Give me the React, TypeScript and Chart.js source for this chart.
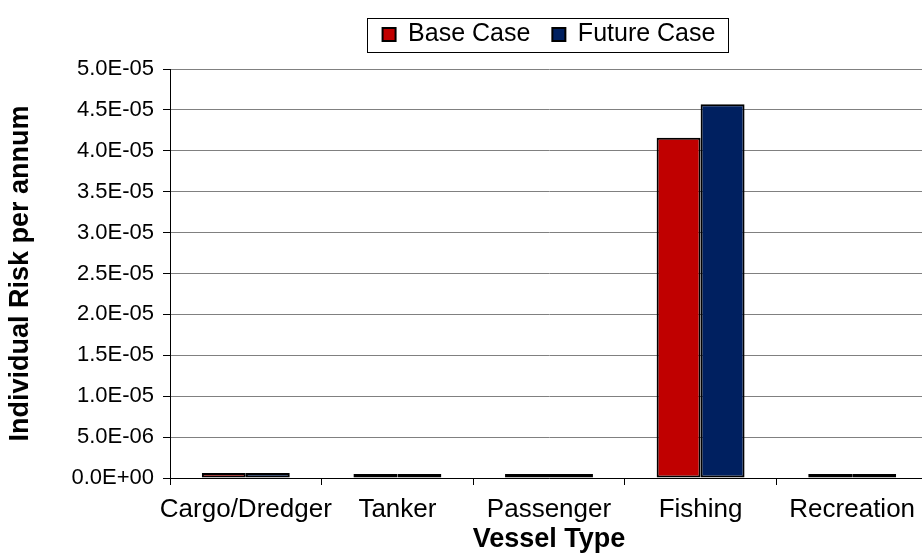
import React, { useEffect, useRef } from "react";
import { Chart, registerables } from "chart.js";

Chart.register(...registerables);

const categories = ["Cargo/Dredger", "Tanker", "Passenger", "Fishing", "Recreation"];
const baseCase = [6.0e-7, 1.5e-7, 1.2e-7, 4.16e-5, 1.2e-7];
const futureCase = [6.0e-7, 1.5e-7, 1.2e-7, 4.57e-5, 1.2e-7];
const seriesNames = ["Base Case", "Future Case"];
const seriesColors = ["#C00000", "#002060"];
const yMin = 0;
const yMax = 5e-5;
const yStep = 5e-6;

const FONT = "'Liberation Sans', Arial, sans-serif";

function fmtSci(v: number): string {
  if (Math.abs(v) < 1e-15) return "0.0E+00";
  const s = v.toExponential(1);
  const [m, e] = s.split("e");
  const sign = e.startsWith("-") ? "-" : "+";
  const digits = e.replace(/^[+-]/, "").padStart(2, "0");
  return `${m}E${sign}${digits}`;
}

const legendBorder = {
  id: "legendBorder",
  afterDraw(chart: any) {
    const lg = chart.legend;
    const hb = lg && lg.legendHitBoxes;
    if (!hb || !hb.length) return;
    const ctx = chart.ctx;
    const left = Math.min(...hb.map((h: any) => h.left)) - 16;
    const right = Math.max(...hb.map((h: any) => h.left + h.width)) + 12;
    const cy = hb[0].top + hb[0].height / 2;
    ctx.save();
    ctx.strokeStyle = "#000000";
    ctx.lineWidth = 1;
    ctx.strokeRect(Math.round(left) + 0.5, Math.round(cy - 17) + 0.5, Math.round(right - left), 34);
    ctx.restore();
  },
};

export default function App() {
  const ref = useRef<HTMLCanvasElement | null>(null);

  useEffect(() => {
    document.body.style.margin = "0";
    const canvas = ref.current;
    if (!canvas) return;
    const chart = new Chart(canvas, {
      type: "bar",
      data: {
        labels: categories,
        datasets: [
          {
            label: seriesNames[0],
            data: baseCase,
            backgroundColor: seriesColors[0],
            borderColor: "#000000",
            borderWidth: 2,
            minBarLength: 4,
          },
          {
            label: seriesNames[1],
            data: futureCase,
            backgroundColor: seriesColors[1],
            borderColor: "#000000",
            borderWidth: 2,
            minBarLength: 4,
          },
        ],
      },
      options: {
        responsive: false,
        animation: false,
        layout: { padding: { left: 0, right: 0, top: 0, bottom: 0 } },
        datasets: {
          bar: { categoryPercentage: 0.58, barPercentage: 1.0, borderSkipped: false },
        },
        plugins: {
          tooltip: { enabled: false },
          title: {
            display: true,
            text: " ",
            position: "top",
            fullSize: false,
            weight: 500,
            padding: { top: 0, bottom: 0 },
            font: { family: FONT, size: 10 },
          },
          legend: {
            display: true,
            position: "top",
            fullSize: false,
            labels: {
              boxWidth: 13,
              boxHeight: 13,
              padding: 22,
              color: "#000000",
              font: { family: FONT, size: 25 },
            },
          },
        },
        scales: {
          x: {
            type: "category",
            offset: true,
            grid: {
              display: true,
              offset: true,
              drawOnChartArea: false,
              drawTicks: true,
              tickLength: 7,
              tickColor: "#000000",
            },
            border: { display: true, color: "#000000", width: 1 },
            ticks: {
              color: "#000000",
              padding: 9,
              maxRotation: 0,
              autoSkip: false,
              font: { family: FONT, size: 26 },
            },
            title: {
              display: true,
              text: "Vessel Type",
              color: "#000000",
              font: { family: FONT, size: 27, weight: "bold" },
              padding: { top: 0, bottom: 4 },
            },
            afterFit: (s: any) => {
              s.height = 82;
            },
          },
          y: {
            type: "linear",
            min: yMin,
            max: yMax,
            grid: {
              display: true,
              color: "#808080",
              lineWidth: 1,
              drawTicks: true,
              tickLength: 7,
              tickColor: "#000000",
            },
            border: { display: true, color: "#000000", width: 1 },
            ticks: {
              stepSize: yStep,
              color: "#000000",
              padding: 9,
              font: { family: FONT, size: 22 },
              callback: (v: any) => fmtSci(Number(v)),
            },
            title: {
              display: true,
              text: "Individual Risk per annum",
              color: "#000000",
              font: { family: FONT, size: 27, weight: "bold" },
              padding: { top: 4, bottom: 0 },
            },
            afterFit: (s: any) => {
              s.width = 170;
            },
          },
        },
      },
      plugins: [legendBorder],
    });
    return () => chart.destroy();
  }, []);

  return (
    <div style={{ width: 922, height: 560, overflow: "hidden", position: "relative", background: "#ffffff" }}>
      <canvas ref={ref} width={928} height={560} style={{ display: "block", width: 928, height: 560 }} />
    </div>
  );
}
